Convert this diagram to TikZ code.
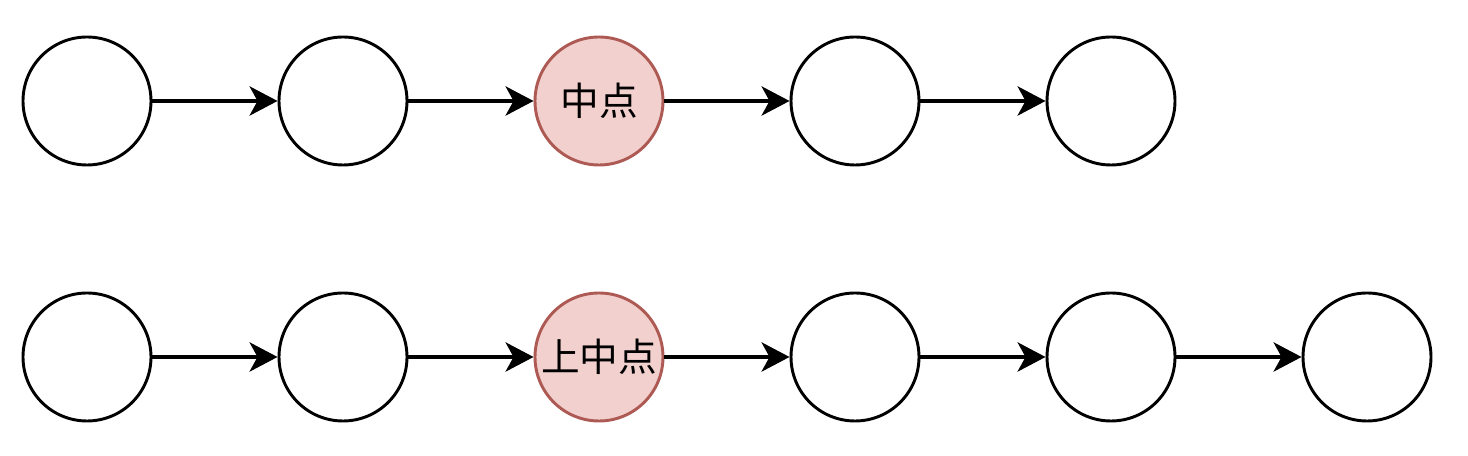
\documentclass[tikz,border=0pt]{standalone}
\usepackage{fontspec}
\newfontfamily\cjk{Noto Sans CJK SC}
\usetikzlibrary{arrows.meta}
\definecolor{midfill}{HTML}{F2D0CE}
\definecolor{midline}{HTML}{AE5A54}
\tikzset{
	dot/.style={circle,draw=black,line width=2.2pt,minimum size=96pt,inner sep=0pt,font=\cjk\fontsize{29}{33}\selectfont},
	middot/.style={dot,fill=midfill,draw=midline},
	link/.style={-{Stealth[length=21pt,width=22pt,inset=6pt]},line width=2.3pt}
}
\begin{document}
\begin{tikzpicture}[x=0.75pt,y=0.75pt]
		\useasboundingbox (0,0) rectangle (1468,456);
		%hàng trên
		\foreach \i in {1,2,4,5}
		\node[dot] (a\i) at ({87+256*(\i-1)},355) {};
		\node[middot] (a3) at (599,355) {中点};
		\foreach \i/\j in {1/2,2/3,3/4,4/5}
		\draw[link] (a\i)--(a\j);
		%hàng dưới
		\foreach \i in {1,2,4,5,6}
		\node[dot] (b\i) at ({87+256*(\i-1)},99) {};
		\node[middot] (b3) at (599,99) {上中点};
		\foreach \i/\j in {1/2,2/3,3/4,4/5,5/6}
		\draw[link] (b\i)--(b\j);
		\end{tikzpicture}
\end{document}
